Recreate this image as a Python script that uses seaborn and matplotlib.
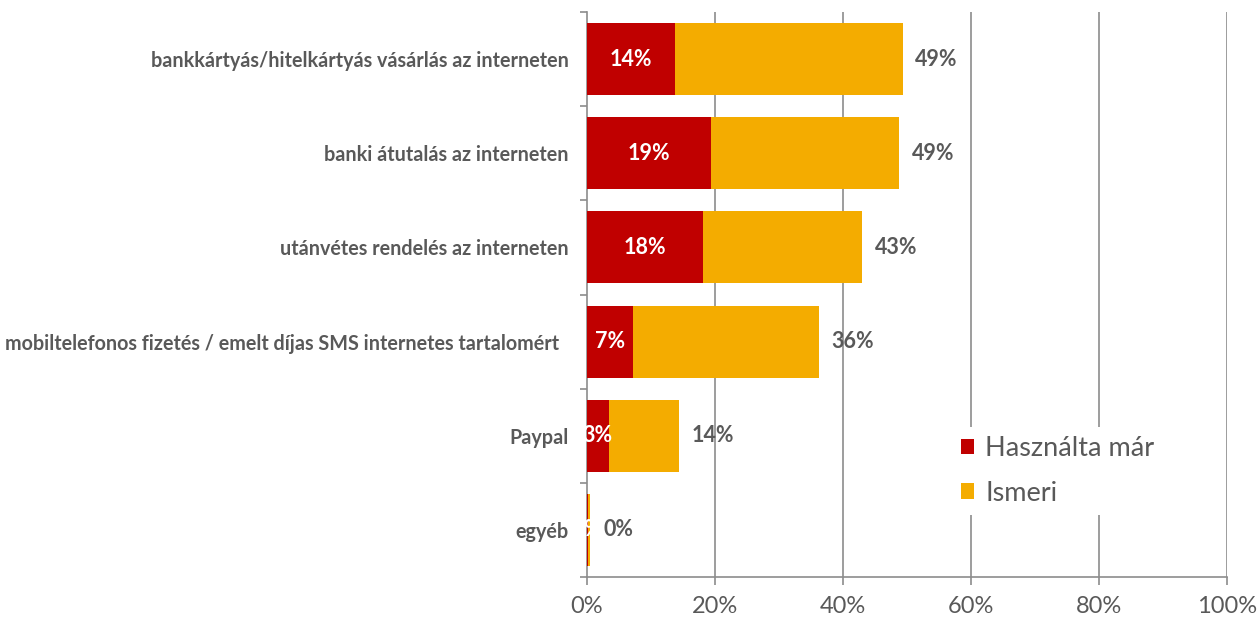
import matplotlib
matplotlib.use("Agg")
import matplotlib.pyplot as plt
import seaborn as sns
import pandas as pd
from matplotlib.patches import Patch
from matplotlib.ticker import FixedLocator, PercentFormatter

categories = [
    "bankkártyás/hitelkártyás vásárlás az interneten",
    "banki átutalás az interneten",
    "utánvétes rendelés az interneten",
    "mobiltelefonos fizetés / emelt díjas SMS internetes tartalomért  ",
    "Paypal",
    "egyéb",
]
hasznalta = [13.7, 19.4, 18.1, 7.2, 3.4, 0.2]
ismeri = [49.3, 48.7, 43.0, 36.2, 14.4, 0.5]
hasznalta_labels = ["14%", "19%", "18%", "7%", "3%", "0%"]
ismeri_labels = ["49%", "49%", "43%", "36%", "14%", "0%"]

RED = "#C00000"
ORANGE = "#F4AC00"
GREY = "#595959"
GRID = "#8C8C8C"

df = pd.DataFrame({"cat": categories, "hasznalta": hasznalta, "ismeri": ismeri})

sns.set_theme(style="white")
plt.rcParams["font.family"] = ["Lato", "DejaVu Sans"]

fig = plt.figure(figsize=(12.59, 6.23), dpi=100)
ax = fig.add_axes([587 / 1259, 1 - 577 / 623, 640 / 1259, 565 / 623])

sns.barplot(data=df, y="cat", x="ismeri", color=ORANGE, width=0.765,
            saturation=1, linewidth=0, ax=ax, zorder=3)
sns.barplot(data=df, y="cat", x="hasznalta", color=RED, width=0.765,
            saturation=1, linewidth=0, ax=ax, zorder=4)

ax.set_xlim(0, 100)
ax.set_ylim(len(categories) - 0.5, -0.5)
ax.set_xlabel("")
ax.set_ylabel("")

# vertical gridlines
ax.set_xticks([0, 20, 40, 60, 80, 100])
ax.xaxis.set_major_formatter(PercentFormatter(decimals=0))
for v in [20, 40, 60, 80, 100]:
    ax.axvline(v, color=GRID, lw=1.2, zorder=1)

ax.tick_params(axis="x", which="major", direction="out", length=6, width=1.2,
               color=GRID, labelsize=17, labelcolor=GREY, bottom=True, pad=8)

# category ticks sit at the boundaries between bars
ax.yaxis.set_minor_locator(FixedLocator([i - 0.5 for i in range(len(categories) + 1)]))
ax.tick_params(axis="y", which="major", length=0, labelsize=14.2, labelcolor=GREY, pad=13)
ax.tick_params(axis="y", which="minor", direction="out", length=5, width=1.2,
               color=GRID, left=True)
for lab in ax.get_yticklabels():
    lab.set_fontweight("bold")

for side in ["top", "right"]:
    ax.spines[side].set_visible(False)
for side in ["left", "bottom"]:
    ax.spines[side].set_color(GRID)
    ax.spines[side].set_linewidth(1.2)

# value labels
for i, (h, s, hl, sl) in enumerate(zip(hasznalta, ismeri, hasznalta_labels, ismeri_labels)):
    ax.text(h / 2, i, hl, ha="center", va="center", color="white",
            fontsize=15.5, fontweight="bold", zorder=6)
    ax.text(s + 2, i, sl, ha="left", va="center", color=GREY,
            fontsize=15.5, fontweight="bold", zorder=6)

handles = [Patch(facecolor=RED, edgecolor="none"), Patch(facecolor=ORANGE, edgecolor="none")]
leg = ax.legend(handles, ["Használta már", "Ismeri"], loc="upper left",
                bbox_to_anchor=(0.548, 0.29), frameon=True, fontsize=19.5,
                handlelength=0.5, handleheight=0.5, handletextpad=0.4,
                labelspacing=0.72, borderpad=0.35, labelcolor=GREY)
leg.get_frame().set_facecolor("white")
leg.get_frame().set_edgecolor("none")
leg.get_frame().set_alpha(1)
leg.set_zorder(7)

fig.savefig("out.png", dpi=100, facecolor="white")
